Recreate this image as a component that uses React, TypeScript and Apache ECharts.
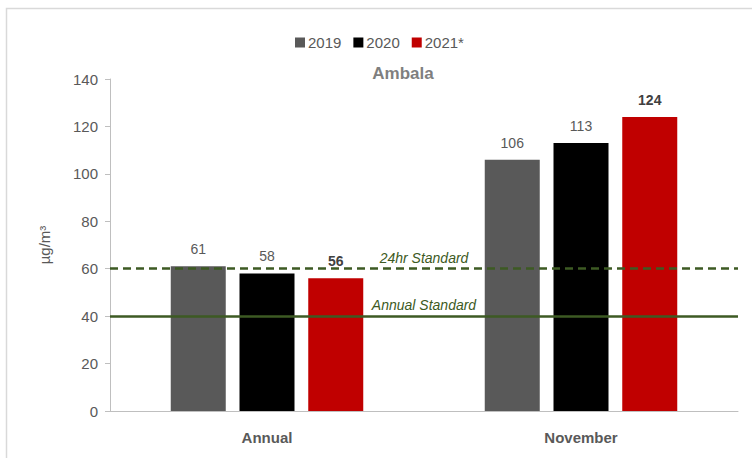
import React, { useEffect, useRef } from "react";
import * as echarts from "echarts";

const categories = ["Annual", "November"];
const seriesNames = ["2019", "2020", "2021*"];
const values2019 = [61, 106];
const values2020 = [58, 113];
const values2021 = [56, 124];
const standardValues = [60, 40];
const standardLabels = ["24hr Standard", "Annual Standard"];
const yTicks = { min: 0, max: 140, interval: 20 };

const FONT = "'Liberation Sans', Arial, sans-serif";

export default function App() {
  const ref = useRef<HTMLDivElement>(null);
  useEffect(() => {
    document.body.style.margin = "0";
    const chart = echarts.init(ref.current!, null, { renderer: "svg" });
    const green = "#3d5a23";
    const labelNormal = {
      show: true,
      position: "top",
      distance: 10,
      color: "#595959",
      fontSize: 14,
      fontFamily: FONT,
    };
    chart.setOption({
      animation: false,
      textStyle: { fontFamily: FONT },
      graphic: [
        {
          type: "rect",
          shape: { x: 6.5, y: 8.5, width: 760, height: 460 },
          style: { fill: "none", stroke: "#d9d9d9", lineWidth: 1.5 },
          silent: true,
        },
      ],
      title: {
        text: "Ambala",
        left: 398,
        top: 60,
        textAlign: "center",
        textStyle: { color: "#7f7f7f", fontSize: 17, fontWeight: "bold", fontFamily: FONT },
      },
      legend: {
        data: seriesNames,
        left: 290,
        top: 30,
        icon: "rect",
        itemWidth: 10,
        itemHeight: 10,
        itemGap: 12,
        textStyle: { color: "#595959", fontSize: 15, fontFamily: FONT, padding: [0, 0, 0, -2] },
      },
      grid: { left: 110, right: 14, top: 79, bottom: 47 },
      xAxis: {
        type: "category",
        data: categories,
        axisLine: { show: true, lineStyle: { color: "#bfbfbf", width: 1 } },
        axisTick: { show: false },
        axisLabel: { color: "#595959", fontSize: 15, fontWeight: "bold", margin: 19, fontFamily: FONT },
      },
      yAxis: {
        type: "value",
        min: yTicks.min,
        max: yTicks.max,
        interval: yTicks.interval,
        name: "µg/m³",
        nameLocation: "middle",
        nameGap: 58,
        nameTextStyle: { color: "#595959", fontSize: 15, fontFamily: FONT },
        splitLine: { show: false },
        axisLine: { show: true, lineStyle: { color: "#bfbfbf", width: 1 } },
        axisTick: { show: true, length: 5, lineStyle: { color: "#bfbfbf" } },
        axisLabel: { color: "#595959", fontSize: 15, margin: 12, fontFamily: FONT },
      },
      series: [
        {
          name: seriesNames[0],
          type: "bar",
          data: values2019,
          barWidth: 55,
          barGap: "25%",
          itemStyle: { color: "#595959" },
          label: labelNormal,
        },
        {
          name: seriesNames[1],
          type: "bar",
          data: values2020,
          barWidth: 55,
          barGap: "25%",
          itemStyle: { color: "#000000" },
          label: labelNormal,
        },
        {
          name: seriesNames[2],
          type: "bar",
          data: values2021,
          barWidth: 55,
          barGap: "25%",
          itemStyle: { color: "#c00000" },
          label: { ...labelNormal, color: "#404040", fontWeight: "bold" },
          markLine: {
            silent: true,
            symbol: "none",
            z: 10,
            data: [
              {
                yAxis: standardValues[0],
                lineStyle: { color: green, width: 2.5, type: [8, 5] },
                label: {
                  show: true,
                  formatter: standardLabels[0],
                  position: "insideMiddleTop",
                  distance: 4,
                  color: green,
                  fontStyle: "italic",
                  fontSize: 14,
                  fontFamily: FONT,
                },
              },
              {
                yAxis: standardValues[1],
                lineStyle: { color: green, width: 2.5, type: "solid" },
                label: {
                  show: true,
                  formatter: standardLabels[1],
                  position: "insideMiddleTop",
                  distance: 4,
                  color: green,
                  fontStyle: "italic",
                  fontSize: 14,
                  fontFamily: FONT,
                },
              },
            ],
          },
        },
      ],
    });
    return () => chart.dispose();
  }, []);
  return <div ref={ref} style={{ width: 752, height: 458 }} />;
}
